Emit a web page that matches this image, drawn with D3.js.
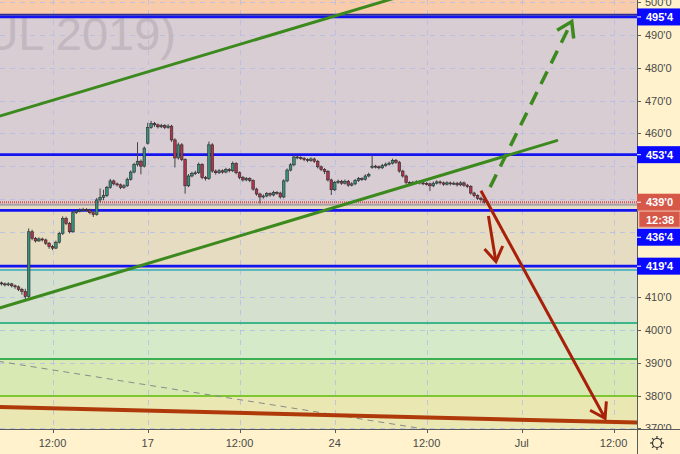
<!DOCTYPE html>
<meta charset="utf-8">
<script src="https://d3js.org/d3.v7.min.js"></script>
<style>
body { margin: 0; background: #fff2cc; overflow: hidden; }
text { font-family: "Liberation Sans", Arial, sans-serif; }
</style>
<body>
<script>

// candles (30 min-ish bars)
var opens = [414.4,414.1,413.8,414.1,413.5,413.2,412.4,411.8,410.2,430.0,
  428.0,427.2,427.8,427.5,426.5,425.5,425.0,426.8,429.5,434.0,
  432.5,430.0,435.8,436.3,436.6,436.8,436.6,435.8,435.2,439.7,
  440.5,441.0,443.5,445.5,444.6,444.3,443.5,444.0,446.0,448.2,
  450.5,451.5,450.0,457.0,461.8,463.0,462.6,462.0,462.4,461.8,
  462.2,458.0,452.5,456.5,452.0,444.0,447.0,447.8,448.0,450.5,
  446.5,446.2,456.5,448.5,448.0,448.6,448.2,449.0,448.6,450.8,
  448.0,446.5,445.8,446.2,445.6,443.0,441.5,440.6,440.9,441.6,
  441.2,442.0,441.8,440.6,445.5,448.8,450.4,452.8,452.6,452.4,
  452.0,451.7,452.2,451.5,449.8,449.0,448.4,445.8,442.8,445.0,
  445.4,444.8,445.4,444.2,444.6,445.6,446.2,446.0,447.0,449.6,
  450.0,449.8,449.5,450.2,450.6,450.9,451.8,451.2,448.5,447.0,
  445.0,444.8,445.0,445.2,444.9,444.7,444.6,444.0,444.8,445.2,
  444.9,444.5,444.9,444.6,444.8,444.3,444.9,444.2,443.8,441.8,
  441.0,440.2,439.8];
var highs = [414.8,414.5,414.6,414.4,413.9,413.6,412.9,412.6,431.0,430.6,
  428.4,428.3,428.2,427.9,426.9,426.0,427.3,430.0,434.7,434.6,
  433.0,436.3,436.8,437.1,437.3,437.2,437.0,436.2,440.3,443.2,
  442.8,444.0,446.1,445.9,445.0,444.7,444.5,446.5,448.7,451.0,
  457.3,452.0,456.0,463.2,463.8,463.5,463.0,462.9,462.8,462.8,
  462.6,458.5,457.2,457.0,452.4,447.6,448.3,448.6,451.1,450.9,
  447.0,457.5,457.0,449.0,449.1,449.0,449.5,449.4,451.4,451.2,
  448.4,447.0,446.7,446.6,446.0,443.4,441.9,441.4,442.1,442.0,
  442.5,442.4,442.2,446.0,449.3,450.9,453.5,453.3,453.0,452.8,
  452.4,452.7,452.6,451.9,450.2,449.4,448.8,446.2,445.5,445.9,
  445.8,445.9,445.8,445.1,446.1,446.7,446.6,447.5,448.0,453.4,
  450.4,450.2,450.7,451.1,451.4,452.3,452.2,451.6,448.9,447.4,
  445.4,445.5,445.7,445.6,445.3,445.1,445.0,445.3,445.7,445.6,
  445.3,445.4,445.3,445.3,445.2,445.4,445.3,444.6,444.2,442.2,
  441.4,440.7,440.2];
var lows = [413.6,413.3,413.4,413.0,412.6,411.9,410.8,409.4,409.6,427.4,
  426.7,426.9,427.0,426.0,424.8,424.4,424.7,426.4,429.0,432.0,
  429.5,429.7,435.4,435.9,436.2,436.1,435.3,434.5,434.9,439.0,
  439.6,440.6,443.1,444.1,443.8,443.0,443.1,443.7,445.6,447.8,
  449.9,447.5,449.6,456.6,461.4,462.0,461.5,461.6,461.3,461.4,
  457.4,449.6,452.0,451.5,441.6,443.6,446.6,447.3,447.6,446.0,
  445.6,445.8,448.0,447.4,447.6,447.7,447.8,448.1,448.2,447.5,
  446.0,445.3,445.4,445.1,442.5,441.0,438.6,440.1,440.5,440.7,
  440.8,441.3,440.1,440.2,445.1,448.4,450.0,452.1,451.9,451.5,
  451.2,451.3,451.0,449.3,448.5,447.6,445.3,441.2,442.4,444.6,
  444.3,444.4,443.7,443.8,444.2,445.2,445.5,445.6,446.6,449.2,
  449.3,449.0,449.1,449.8,450.2,450.5,450.7,448.0,446.5,444.5,
  444.3,444.4,444.6,444.4,444.2,444.1,442.4,443.6,444.4,444.4,
  444.0,444.1,444.1,444.2,443.8,443.9,443.7,443.3,441.3,440.5,
  439.7,439.2,438.6];
var closes = [414.1,413.8,414.1,413.5,413.2,412.4,411.8,410.2,430.0,428.0,
  427.2,427.8,427.5,426.5,425.5,425.0,426.8,429.5,434.0,432.5,
  430.0,435.8,436.3,436.6,436.8,436.6,435.8,435.2,439.7,440.5,
  441.0,443.5,445.5,444.6,444.3,443.5,444.0,446.0,448.2,450.5,
  451.5,450.0,455.5,461.8,463.0,462.6,462.0,462.4,461.8,462.2,
  458.0,452.5,456.5,452.0,444.0,447.0,447.8,448.0,450.5,446.5,
  446.2,456.5,448.5,448.0,448.6,448.2,449.0,448.6,450.8,448.0,
  446.5,445.8,446.2,445.6,443.0,441.5,440.6,440.9,441.6,441.2,
  442.0,441.8,440.6,445.5,448.8,450.4,452.8,452.6,452.4,452.0,
  451.7,452.2,451.5,449.8,449.0,448.4,445.8,442.8,445.0,445.4,
  444.8,445.4,444.2,444.6,445.6,446.2,446.0,447.0,447.5,450.0,
  449.8,449.5,450.2,450.6,450.9,451.8,451.2,448.5,447.0,445.0,
  444.8,445.0,445.2,444.9,444.7,444.6,444.0,444.8,445.2,444.9,
  444.5,444.9,444.6,444.8,444.3,444.9,444.2,443.8,441.8,441.0,
  440.2,439.8,439.0];

// time axis (bar index of each label)
var tickIdx = [15, 43, 70, 98, 125, 153, 180];
var tickLabels = ["12:00", "17", "12:00", "24", "12:00", "Jul", "12:00"];
var priceTicks = [370, 380, 390, 400, 410, 420, 430, 440, 450, 460, 470, 480, 490, 500];

// fib-like zones
var zoneEdges = [520, 496.2, 438.2, 418.3, 402.2, 391.2, 379.9, 350];
var zoneFills = ["#f8cbab", "#d8cdd3", "#e6dcc1", "#d5e0cf", "#d4eac8", "#d8e9b3", "#eae7b3"];
var zoneLineColors = ["#2c2c9c", "#aaa4a6", "#5bb8bf", "#3fb58e", "#3cb050", "#7dc730"];

// horizontal levels
var levelPrices = [495.5, 453.5, 436.5, 419.5];
var levelLabels = ["495'4", "453'4", "436'4", "419'4"];
var lastPrice = 439.0, lastLabel = "439'0", countdown = "12:38";

// drawings: [idx1, price1, idx2, price2]
var channelLines = [[-1, 465.13, 120, 502.6], [-1, 406.6, 163.3, 457.8]];
var bullArrow = [143.7, 443.6, 167.7, 494.1];
var bearArrows = [[143.2, 434.8, 145.4, 420.9], [141.0, 442.5, 177.5, 373.1]];
var supportLine = [-1, 376.6, 187, 371.8];
var dashedLine = [-1, 390.5, 130, 368.9];

var width = 680, height = 454,
    plotW = 637, plotH = 429;

var x = d3.scaleLinear().domain([-0.44, 186.6]).range([0, 636]);
var y = d3.scaleLinear().domain([369.84, 500.67]).range([429, 0]);

var svg = d3.select("body").append("svg")
    .attr("width", width)
    .attr("height", height);

svg.append("rect").attr("width", width).attr("height", height).attr("fill", "#fff2cc");

svg.append("clipPath").attr("id", "plot")
  .append("rect").attr("width", plotW).attr("height", plotH);

var plot = svg.append("g").attr("clip-path", "url(#plot)");

// zones
plot.selectAll("rect.zone")
    .data(zoneFills)
    .enter().append("rect")
    .attr("class", "zone")
    .attr("x", 0)
    .attr("width", plotW)
    .attr("y", function(d, i) { return y(zoneEdges[i]); })
    .attr("height", function(d, i) { return y(zoneEdges[i + 1]) - y(zoneEdges[i]); })
    .attr("fill", function(d) { return d; });

// grid
plot.selectAll("line.hgrid")
    .data(priceTicks)
    .enter().append("line")
    .attr("x1", 0).attr("x2", plotW)
    .attr("y1", function(d) { return Math.round(y(d)) + 0.5; })
    .attr("y2", function(d) { return Math.round(y(d)) + 0.5; })
    .style("stroke", "#b4bde6")
    .style("stroke-opacity", 0.8)
    .style("stroke-dasharray", "5,5");

plot.selectAll("line.vgrid")
    .data(tickIdx)
    .enter().append("line")
    .attr("y1", 0).attr("y2", plotH)
    .attr("x1", function(d) { return Math.round(x(d)) + 0.5; })
    .attr("x2", function(d) { return Math.round(x(d)) + 0.5; })
    .style("stroke", "#b4bde6")
    .style("stroke-opacity", 0.8)
    .style("stroke-dasharray", "5,5");

// zone boundaries
plot.selectAll("line.zline")
    .data(zoneLineColors)
    .enter().append("line")
    .attr("x1", 0).attr("x2", plotW)
    .attr("y1", function(d, i) { return y(zoneEdges[i + 1]); })
    .attr("y2", function(d, i) { return y(zoneEdges[i + 1]); })
    .style("stroke", function(d) { return d; })
    .style("stroke-width", 2);

// watermark
plot.append("text")
    .attr("x", 176)
    .attr("y", 50)
    .attr("text-anchor", "end")
    .style("font-size", "47px")
    .style("fill", "#c3b8c0")
    .text("(JUL 2019)");

// blue levels
plot.selectAll("line.level")
    .data(levelPrices)
    .enter().append("line")
    .attr("x1", 0).attr("x2", plotW)
    .attr("y1", function(d) { return y(d); })
    .attr("y2", function(d) { return y(d); })
    .style("stroke", "#1414f0")
    .style("stroke-width", 2.6);

// last price line
plot.append("line")
    .attr("x1", 0).attr("x2", plotW)
    .attr("y1", y(lastPrice)).attr("y2", y(lastPrice))
    .style("stroke", "#d9534f")
    .style("stroke-width", 2)
    .style("stroke-dasharray", "1,1");

// candles
var idx = d3.range(closes.length);
var candle = plot.append("g").selectAll("g")
    .data(idx)
    .enter().append("g");

candle.append("line")
    .attr("x1", function(i) { return x(i); })
    .attr("x2", function(i) { return x(i); })
    .attr("y1", function(i) { return y(highs[i]); })
    .attr("y2", function(i) { return y(lows[i]); })
    .style("stroke", "#444")
    .style("stroke-width", 1);

candle.append("rect")
    .attr("x", function(i) { return x(i) - 1.3; })
    .attr("width", 2.6)
    .attr("y", function(i) { return y(Math.max(opens[i], closes[i])); })
    .attr("height", function(i) { return Math.max(1, Math.abs(y(opens[i]) - y(closes[i]))); })
    .style("fill", function(i) { return closes[i] >= opens[i] ? "#37907b" : "#b3344e"; })
    .style("stroke", "#2a2a2a")
    .style("stroke-width", 0.6);

// channel
plot.selectAll("line.channel")
    .data(channelLines)
    .enter().append("line")
    .attr("x1", function(d) { return x(d[0]); })
    .attr("y1", function(d) { return y(d[1]); })
    .attr("x2", function(d) { return x(d[2]); })
    .attr("y2", function(d) { return y(d[3]); })
    .style("stroke", "#3c8a1e")
    .style("stroke-width", 3)
    .style("stroke-linecap", "round");

// grey dashed line
plot.append("line")
    .attr("x1", x(dashedLine[0])).attr("y1", y(dashedLine[1]))
    .attr("x2", x(dashedLine[2])).attr("y2", y(dashedLine[3]))
    .style("stroke", "#8a8a8a")
    .style("stroke-width", 1)
    .style("stroke-dasharray", "6,5");

// support line
plot.append("line")
    .attr("x1", x(supportLine[0])).attr("y1", y(supportLine[1]))
    .attr("x2", x(supportLine[2])).attr("y2", y(supportLine[3]))
    .style("stroke", "#b0390a")
    .style("stroke-width", 4);

function head(d) {
  var x1 = x(d[0]), y1 = y(d[1]), x2 = x(d[2]), y2 = y(d[3]);
  var a = Math.atan2(y1 - y2, x1 - x2), len = 17, w = 33 * Math.PI / 180;
  return "M" + (x2 + len * Math.cos(a - w)) + "," + (y2 + len * Math.sin(a - w)) +
         "L" + x2 + "," + y2 +
         "L" + (x2 + len * Math.cos(a + w)) + "," + (y2 + len * Math.sin(a + w));
}

// bull arrow (dashed)
plot.append("line")
    .attr("x1", x(bullArrow[0])).attr("y1", y(bullArrow[1]))
    .attr("x2", x(bullArrow[2])).attr("y2", y(bullArrow[3]))
    .style("stroke", "#3c8a1e")
    .style("stroke-width", 3.5)
    .style("stroke-dasharray", "14,9");
plot.append("path")
    .attr("d", head(bullArrow))
    .style("fill", "none")
    .style("stroke", "#3c8a1e")
    .style("stroke-width", 3.5);

// bear arrows
plot.selectAll("line.bear")
    .data(bearArrows)
    .enter().append("line")
    .attr("x1", function(d) { return x(d[0]); })
    .attr("y1", function(d) { return y(d[1]); })
    .attr("x2", function(d) { return x(d[2]); })
    .attr("y2", function(d) { return y(d[3]); })
    .style("stroke", "#a8200a")
    .style("stroke-width", 3);
plot.selectAll("path.bear")
    .data(bearArrows)
    .enter().append("path")
    .attr("d", head)
    .style("fill", "none")
    .style("stroke", "#a8200a")
    .style("stroke-width", 3);

// price labels, stacked so they don't overlap
var labels = levelPrices.map(function(p, i) {
  return {price: p, text: levelLabels[i], fill: "#0a0aff", h: 17};
});
labels.push({price: lastPrice, text: lastLabel, fill: "#d65848", h: 17, sub: countdown});
labels.sort(function(a, b) { return b.price - a.price; });
var prevBottom = -100;
labels.forEach(function(l) {
  var top = Math.max(y(l.price) - 8.5, prevBottom + 1);
  l.top = top;
  l.bottom = top + l.h + (l.sub ? 17 : 0);
  prevBottom = l.bottom;
});

// axis ticks hidden behind a label box are not drawn (as the platform does)
function covered(p) {
  var ty = y(p);
  return labels.some(function(l) { return ty > l.top - 5 && ty < l.bottom + 5; });
}
var shownTicks = priceTicks.filter(function(p) { return !covered(p); });

// axes
var axisG = svg.append("g");
axisG.append("line")
    .attr("x1", plotW + 0.5).attr("x2", plotW + 0.5)
    .attr("y1", 0).attr("y2", height)
    .style("stroke", "#5a5a5a");
axisG.append("line")
    .attr("x1", 0).attr("x2", width)
    .attr("y1", plotH + 0.5).attr("y2", plotH + 0.5)
    .style("stroke", "#5a5a5a");

svg.append("clipPath").attr("id", "yaxis")
  .append("rect").attr("x", plotW).attr("width", width - plotW).attr("height", plotH);

var yAx = svg.append("g").attr("clip-path", "url(#yaxis)");
yAx.selectAll("line.ytick")
    .data(shownTicks)
    .enter().append("line")
    .attr("x1", plotW).attr("x2", plotW + 4)
    .attr("y1", function(d) { return Math.round(y(d)) + 0.5; })
    .attr("y2", function(d) { return Math.round(y(d)) + 0.5; })
    .style("stroke", "#5a5a5a");
yAx.selectAll("text.ytick")
    .data(shownTicks)
    .enter().append("text")
    .attr("x", plotW + 8)
    .attr("y", function(d) { return y(d) + 4; })
    .style("font-size", "11px")
    .style("fill", "#4a4a4a")
    .text(function(d) { return d + "'0"; });

svg.selectAll("line.xtick")
    .data(tickIdx)
    .enter().append("line")
    .attr("x1", function(d) { return Math.round(x(d)) + 0.5; })
    .attr("x2", function(d) { return Math.round(x(d)) + 0.5; })
    .attr("y1", plotH).attr("y2", plotH + 4)
    .style("stroke", "#5a5a5a");
svg.selectAll("text.xtick")
    .data(tickIdx)
    .enter().append("text")
    .attr("x", function(d) { return x(d); })
    .attr("y", plotH + 18)
    .attr("text-anchor", "middle")
    .style("font-size", "11px")
    .style("fill", "#4a4a4a")
    .text(function(d, i) { return tickLabels[i]; });

var lab = svg.selectAll("g.lab")
    .data(labels)
    .enter().append("g");
lab.append("rect")
    .attr("x", plotW).attr("width", width - plotW)
    .attr("y", function(d) { return d.top; })
    .attr("height", function(d) { return d.h; })
    .attr("fill", function(d) { return d.fill; });
lab.append("line")
    .attr("x1", plotW).attr("x2", plotW + 4)
    .attr("y1", function(d) { return d.top + 8.5; })
    .attr("y2", function(d) { return d.top + 8.5; })
    .style("stroke", "#fff");
lab.append("text")
    .attr("x", plotW + 9)
    .attr("y", function(d) { return d.top + 12.5; })
    .style("font-size", "11px")
    .style("font-weight", "bold")
    .style("fill", "#fff")
    .text(function(d) { return d.text; });
lab.filter(function(d) { return d.sub; }).append("rect")
    .attr("x", plotW + 2).attr("width", width - plotW - 2)
    .attr("y", function(d) { return d.top + 17.5; })
    .attr("height", 16)
    .attr("fill", "#d65848")
    .style("stroke", "#e8a090")
    .style("stroke-width", 1);
lab.filter(function(d) { return d.sub; }).append("text")
    .attr("x", plotW + 9)
    .attr("y", function(d) { return d.top + 30; })
    .style("font-size", "11px")
    .style("font-weight", "bold")
    .style("fill", "#fff")
    .text(function(d) { return d.sub; });

// settings glyph
var gear = svg.append("g").attr("transform", "translate(657,443)");
gear.append("circle").attr("r", 4.5)
    .style("fill", "none").style("stroke", "#333").style("stroke-width", 1.2);
gear.selectAll("line")
    .data(d3.range(8))
    .enter().append("line")
    .attr("x1", function(d) { return 4.5 * Math.cos(d * Math.PI / 4); })
    .attr("y1", function(d) { return 4.5 * Math.sin(d * Math.PI / 4); })
    .attr("x2", function(d) { return 7 * Math.cos(d * Math.PI / 4); })
    .attr("y2", function(d) { return 7 * Math.sin(d * Math.PI / 4); })
    .style("stroke", "#333").style("stroke-width", 1.2);

</script>
</body>
